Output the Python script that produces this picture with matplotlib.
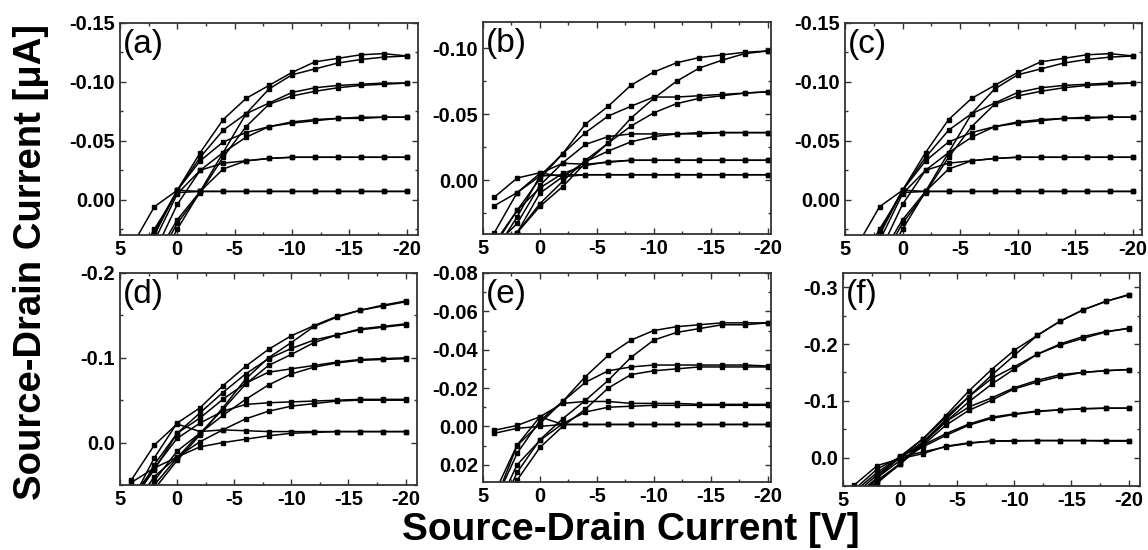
import matplotlib
matplotlib.use('Agg')
import matplotlib.pyplot as plt
from matplotlib.ticker import MultipleLocator, FormatStrFormatter

plt.rcParams['font.family'] = ['Liberation Sans', 'DejaVu Sans']
plt.rcParams['axes.unicode_minus'] = False

# drain voltage steps [V]
VDS = [-20, -18, -16, -14, -12, -10, -8, -6, -4, -2, 0, 2, 4]

# currents [uA], one list per sweep (forward / backward for each gate voltage)
A_CURVES = [
    [-0.122, -0.124, -0.123, -0.120, -0.117, -0.108, -0.097, -0.086, -0.068, -0.040, -0.008, 0.028, 0.065],
    [-0.122, -0.121, -0.119, -0.116, -0.111, -0.106, -0.094, -0.073, -0.040, -0.007, 0.025, 0.060, 0.090],
    [-0.099, -0.099, -0.098, -0.097, -0.095, -0.091, -0.082, -0.073, -0.059, -0.036, -0.008, 0.030, 0.070],
    [-0.099, -0.098, -0.097, -0.095, -0.092, -0.088, -0.081, -0.062, -0.036, -0.006, 0.020, 0.055, 0.085],
    [-0.070, -0.070, -0.070, -0.069, -0.068, -0.066, -0.062, -0.057, -0.049, -0.033, -0.008, 0.027, 0.065],
    [-0.070, -0.070, -0.069, -0.069, -0.067, -0.065, -0.062, -0.053, -0.040, -0.025, 0.004, 0.045, 0.080],
    [-0.036, -0.036, -0.036, -0.036, -0.036, -0.036, -0.035, -0.033, -0.031, -0.025, -0.005, 0.035, 0.070],
    [-0.036, -0.036, -0.036, -0.036, -0.036, -0.036, -0.035, -0.033, -0.026, -0.007, 0.017, 0.050, 0.080],
    [-0.007, -0.007, -0.007, -0.007, -0.007, -0.007, -0.007, -0.007, -0.007, -0.007, -0.008, 0.006, 0.040],
    [-0.007, -0.007, -0.007, -0.007, -0.007, -0.007, -0.007, -0.007, -0.007, -0.007, -0.006, 0.025, 0.060],
]

B_CURVES = [
    [-0.098, -0.097, -0.095, -0.093, -0.089, -0.082, -0.072, -0.056, -0.0425, -0.020, -0.003, 0.028, 0.055],
    [-0.098, -0.096, -0.091, -0.085, -0.075, -0.062, -0.047, -0.028, -0.013, 0.005, 0.020, 0.040, 0.070],
    [-0.067, -0.066, -0.065, -0.064, -0.063, -0.063, -0.056, -0.0486, -0.036, -0.020, -0.001, 0.023, 0.050],
    [-0.067, -0.066, -0.064, -0.062, -0.058, -0.051, -0.041, -0.028, -0.015, 0.001, 0.018, 0.040, 0.065],
    [-0.036, -0.036, -0.036, -0.036, -0.035, -0.035, -0.035, -0.033, -0.027, -0.013, 0.004, 0.033, 0.050],
    [-0.036, -0.036, -0.036, -0.035, -0.035, -0.033, -0.029, -0.022, -0.014, -0.0025, 0.010, 0.040, 0.060],
    [-0.015, -0.015, -0.015, -0.015, -0.015, -0.015, -0.015, -0.0134, -0.012, -0.0127, -0.005, 0.0096, 0.040],
    [-0.015, -0.015, -0.015, -0.015, -0.015, -0.015, -0.015, -0.014, -0.011, -0.005, 0.006, 0.023, 0.048],
    [-0.004, -0.004, -0.004, -0.004, -0.004, -0.004, -0.004, -0.004, -0.004, -0.0025, -0.0055, -0.0015, 0.013],
    [-0.004, -0.004, -0.004, -0.004, -0.004, -0.004, -0.004, -0.004, -0.004, -0.004, -0.003, 0.0096, 0.0195],
]

# panel (c) shows the same measurement as (a)
C_CURVES = A_CURVES

D_CURVES = [
    [-0.167, -0.162, -0.156, -0.149, -0.138, -0.126, -0.110, -0.090, -0.067, -0.041, -0.023, 0.018, 0.070],
    [-0.166, -0.161, -0.156, -0.148, -0.137, -0.118, -0.100, -0.075, -0.041, -0.009, 0.021, 0.055, 0.100],
    [-0.140, -0.137, -0.134, -0.127, -0.121, -0.111, -0.099, -0.081, -0.059, -0.035, -0.011, 0.026, 0.075],
    [-0.139, -0.136, -0.133, -0.127, -0.118, -0.104, -0.091, -0.069, -0.039, -0.011, 0.018, 0.050, 0.095],
    [-0.100, -0.099, -0.098, -0.095, -0.091, -0.087, -0.083, -0.070, -0.051, -0.029, -0.011, 0.032, 0.070],
    [-0.099, -0.098, -0.097, -0.094, -0.089, -0.081, -0.068, -0.051, -0.032, -0.011, 0.010, 0.045, 0.090],
    [-0.051, -0.051, -0.051, -0.050, -0.049, -0.048, -0.047, -0.045, -0.037, -0.023, -0.005, 0.030, 0.065],
    [-0.050, -0.050, -0.050, -0.049, -0.046, -0.043, -0.037, -0.028, -0.015, -0.001, 0.017, 0.040, 0.080],
    [-0.013, -0.013, -0.013, -0.013, -0.013, -0.013, -0.013, -0.014, -0.015, -0.013, -0.022, 0.003, 0.044],
    [-0.013, -0.013, -0.013, -0.013, -0.012, -0.011, -0.008, -0.004, 0.000, 0.005, 0.017, 0.030, 0.047],
]

E_CURVES = [
    [-0.054, -0.054, -0.054, -0.053, -0.052, -0.050, -0.045, -0.037, -0.026, -0.013, -0.0015, 0.010, 0.040],
    [-0.054, -0.053, -0.053, -0.051, -0.049, -0.045, -0.036, -0.024, -0.0136, -0.004, 0.007, 0.024, 0.050],
    [-0.0315, -0.032, -0.032, -0.032, -0.032, -0.032, -0.031, -0.029, -0.023, -0.013, -0.003, 0.014, 0.040],
    [-0.031, -0.031, -0.031, -0.031, -0.030, -0.029, -0.027, -0.020, -0.009, 0.000, 0.011, 0.028, 0.050],
    [-0.0115, -0.0115, -0.0115, -0.0115, -0.012, -0.012, -0.012, -0.013, -0.013, -0.012, -0.005, 0.0097, 0.035],
    [-0.011, -0.011, -0.011, -0.011, -0.011, -0.011, -0.0105, -0.010, -0.0075, -0.0014, 0.0073, 0.020, 0.045],
    [-0.001, -0.001, -0.001, -0.001, -0.001, -0.001, -0.001, -0.001, -0.001, -0.001, -0.005, -0.0005, 0.002],
    [-0.001, -0.001, -0.001, -0.001, -0.001, -0.001, -0.001, -0.001, -0.001, -0.001, 0.000, 0.001, 0.0036],
]

F_CURVES = [
    [-0.286, -0.275, -0.260, -0.240, -0.215, -0.189, -0.155, -0.117, -0.074, -0.033, -0.001, 0.035, 0.075],
    [-0.287, -0.275, -0.260, -0.240, -0.215, -0.180, -0.145, -0.107, -0.067, -0.0275, 0.010, 0.045, 0.085],
    [-0.227, -0.222, -0.213, -0.200, -0.182, -0.160, -0.139, -0.107, -0.071, -0.033, -0.002, 0.035, 0.075],
    [-0.228, -0.221, -0.210, -0.198, -0.182, -0.156, -0.129, -0.098, -0.063, -0.025, 0.012, 0.043, 0.080],
    [-0.155, -0.153, -0.150, -0.146, -0.136, -0.123, -0.105, -0.089, -0.063, -0.0275, 0.000, 0.030, 0.065],
    [-0.155, -0.153, -0.150, -0.143, -0.133, -0.121, -0.101, -0.083, -0.057, -0.022, 0.011, 0.040, 0.075],
    [-0.087, -0.087, -0.086, -0.084, -0.082, -0.077, -0.071, -0.059, -0.042, -0.022, -0.001, 0.026, 0.060],
    [-0.087, -0.087, -0.086, -0.084, -0.081, -0.076, -0.069, -0.057, -0.039, -0.019, 0.005, 0.035, 0.070],
    [-0.029, -0.029, -0.030, -0.030, -0.030, -0.029, -0.029, -0.026, -0.020, -0.007, 0.002, 0.014, 0.048],
    [-0.030, -0.030, -0.030, -0.030, -0.030, -0.030, -0.029, -0.025, -0.019, -0.010, -0.001, 0.020, 0.056],
]

LABELS = ['(a)', '(b)', '(c)', '(d)', '(e)', '(f)']
ALL_CURVES = [A_CURVES, B_CURVES, C_CURVES, D_CURVES, E_CURVES, F_CURVES]

# layout in pixels: left, top, right, bottom
W, H = 1148, 550
BOXES = [(120, 23, 418, 235), (483, 22, 771, 234), (845, 23, 1142, 235),
         (120, 273, 417, 485), (483, 273, 771, 482), (843, 273, 1140, 486)]
XLIMS = [(5, -21), (5, -20.3), (5, -20.8), (5, -21), (5, -20.3), (5, -21)]
YLIMS = [(0.03, -0.15), (0.041, -0.12), (0.03, -0.15),
         (0.05, -0.2), (0.029, -0.08), (0.05, -0.325)]
YSTEP = [0.05, 0.05, 0.05, 0.1, 0.02, 0.1]
YFMT = ['%.2f', '%.2f', '%.2f', '%.1f', '%.2f', '%.1f']

fig = plt.figure(figsize=(W / 100, H / 100), dpi=100)

for i in range(6):
    l, t, r, b = BOXES[i]
    ax = fig.add_axes([l / W, 1 - b / H, (r - l) / W, (b - t) / H])
    for cur in ALL_CURVES[i]:
        ax.plot(VDS, cur, color='black', lw=1.1, marker='s', ms=2.8,
                mfc='black', mec='black')
    ax.set_xlim(*XLIMS[i])
    ax.set_ylim(*YLIMS[i])
    ax.xaxis.set_major_locator(MultipleLocator(5))
    ax.xaxis.set_minor_locator(MultipleLocator(2.5))
    ax.yaxis.set_major_locator(MultipleLocator(YSTEP[i]))
    ax.yaxis.set_minor_locator(MultipleLocator(YSTEP[i] / 2))
    ax.yaxis.set_major_formatter(FormatStrFormatter(YFMT[i]))
    ax.xaxis.set_major_formatter(FormatStrFormatter('%d'))
    ax.tick_params(which='both', direction='in', top=True, right=True,
                   width=1.0, color='#333333')
    ax.tick_params(which='major', length=4.5, labelsize=14.5, pad=3.5)
    ax.tick_params(which='minor', length=2.5)
    for lab in ax.get_xticklabels() + ax.get_yticklabels():
        lab.set_fontweight('bold')
    for sp in ax.spines.values():
        sp.set_linewidth(1.3)
        sp.set_color('#333333')
    ax.text(0.01, 0.97, LABELS[i], transform=ax.transAxes, fontsize=24,
            ha='left', va='top')

fig.text(631 / W, 1 - 530 / H, 'Source-Drain Current [V]', ha='center',
         va='center', fontsize=28, fontweight='bold')
fig.text(31 / W, 1 - 262 / H, 'Source-Drain Current [\u03bcA]', ha='center',
         va='center', rotation=90, fontsize=27.5, fontweight='bold')

fig.savefig('out.png', dpi=100)
